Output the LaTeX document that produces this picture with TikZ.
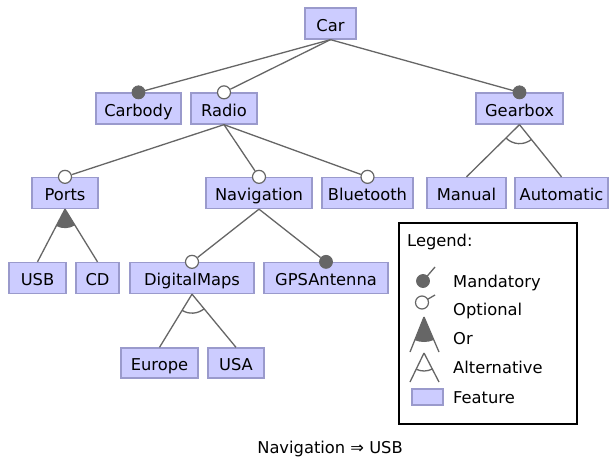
\documentclass[tikz,border=0pt]{standalone}
\usepackage{fontspec}
\setmainfont{DejaVu Sans}
\usetikzlibrary{calc}
\definecolor{boxfill}{HTML}{CCCCFF}
\definecolor{boxborder}{HTML}{9A9ACC}
\definecolor{lngray}{HTML}{666666}
\newcommand\fmor[4]{%
  \draw[conn] (#1) -- (#2);
  \draw[conn] (#1) -- (#3);
  \fill[lngray] let \p1=($(#2)-(#1)$), \p2=($(#3)-(#1)$),
    \n1={atan2(\y1,\x1)}, \n2={atan2(\y2,\x2)} in
    (#1) -- ++(\n1:#4) arc[start angle=\n1, end angle=\n2, radius=#4] -- cycle;}
\newcommand\fmalt[4]{%
  \draw[conn] (#1) -- (#2);
  \draw[conn] (#1) -- (#3);
  \draw[conn] let \p1=($(#2)-(#1)$), \p2=($(#3)-(#1)$),
    \n1={atan2(\y1,\x1)}, \n2={atan2(\y2,\x2)} in
    (#1) ++(\n1:#4) arc[start angle=\n1, end angle=\n2, radius=#4];}
\begin{document}
\begin{tikzpicture}[x=1pt,y=1pt,
  every node/.style={font=\fontsize{16.3}{19}\selectfont},
  feat/.style={draw=boxborder, fill=boxfill, line width=1.3pt, minimum height=31pt,
    inner xsep=0pt, inner ysep=0pt, text height=15pt, text depth=0pt},
  conn/.style={draw=lngray, line width=1.3pt},
  mand/.style={circle, fill=lngray, draw=lngray, line width=0.8pt, minimum size=13pt, inner sep=0pt},
  opt/.style={circle, fill=white, draw=lngray, line width=1.2pt, minimum size=13pt, inner sep=0pt},
  lbl/.style={anchor=base west, inner sep=0pt}]
\useasboundingbox (0,0) rectangle (609,-460);
\fill[white] (0,0) rectangle (609,-460);
% features
\node[feat, minimum width=51pt] (Car) at (330.5,-23.5) {Car};
\node[feat, minimum width=85pt] (Carbody) at (138.5,-108.5) {Carbody};
\node[feat, minimum width=66pt] (Radio) at (224,-108.5) {Radio};
\node[feat, minimum width=87pt] (Gearbox) at (519.5,-108.5) {Gearbox};
\node[feat, minimum width=66pt] (Ports) at (65,-193) {Ports};
\node[feat, minimum width=106pt] (Navigation) at (259,-193) {Navigation};
\node[feat, minimum width=91pt] (Bluetooth) at (367.5,-193) {Bluetooth};
\node[feat, minimum width=79pt] (Manual) at (466.5,-193) {Manual};
\node[feat, minimum width=93pt] (Automatic) at (561.5,-193) {Automatic};
\node[feat, minimum width=57pt] (USB) at (37.5,-278) {USB};
\node[feat, minimum width=43pt] (CD) at (97.5,-278) {CD};
\node[feat, minimum width=124pt] (DigitalMaps) at (192,-278) {DigitalMaps};
\node[feat, minimum width=124pt] (GPSAntenna) at (326,-278) {GPSAntenna};
\node[feat, minimum width=77pt, minimum height=30pt] (Europe) at (159.5,-363) {Europe};
\node[feat, minimum width=56pt, minimum height=30pt] (USA) at (236,-363) {USA};
% mandatory / optional
\node[mand] (mCarbody) at (Carbody.north) {};
\node[opt] (oRadio) at (Radio.north) {};
\node[mand] (mGearbox) at (Gearbox.north) {};
\node[opt] (oPorts) at (Ports.north) {};
\node[opt] (oNavigation) at (Navigation.north) {};
\node[opt] (oBluetooth) at (Bluetooth.north) {};
\node[opt] (oDigitalMaps) at (DigitalMaps.north) {};
\node[mand] (mGPSAntenna) at (GPSAntenna.north) {};
\draw[conn] (Car.south) -- (mCarbody);
\draw[conn] (Car.south) -- (oRadio);
\draw[conn] (Car.south) -- (mGearbox);
\draw[conn] (Radio.south) -- (oPorts);
\draw[conn] (Radio.south) -- (oNavigation);
\draw[conn] (Radio.south) -- (oBluetooth);
\draw[conn] (Navigation.south) -- (oDigitalMaps);
\draw[conn] (Navigation.south) -- (mGPSAntenna);
% groups
\fmor{Ports.south}{USB.north}{CD.north}{19pt}
\fmalt{Gearbox.south}{Manual.north}{Automatic.north}{19pt}
\fmalt{DigitalMaps.south}{Europe.north}{USA.north}{19pt}
% legend
\node[draw=black, line width=1.2pt, minimum width=178pt, minimum height=201pt, inner sep=0pt] (legend) at (488,-323.5) {};
\node[lbl] (lgtitle) at (407,-246) {Legend:};
\coordinate (lgmE) at (435,-267);
\draw[conn] (423,-281) -- (lgmE);
\node[mand] (lgm) at (423,-281) {};
\node[lbl] (lgmt) at (453,-287.5) {Mandatory};
\coordinate (lgoE) at (435,-295);
\draw[conn] (422,-302.5) -- (lgoE);
\node[opt] (lgo) at (422,-302.5) {};
\node[lbl] (lgot) at (453,-315.5) {Optional};
\coordinate (lgorA) at (424,-317);
\coordinate (lgorL) at (410,-352);
\coordinate (lgorR) at (439,-352);
\fmor{lgorA}{lgorL}{lgorR}{25pt}
\node[lbl] (lgort) at (453,-344.5) {Or};
\coordinate (lgalA) at (424,-353);
\coordinate (lgalL) at (410,-382);
\coordinate (lgalR) at (439,-382);
\fmalt{lgalA}{lgalL}{lgalR}{18pt}
\node[lbl] (lgalt) at (453,-373.5) {Alternative};
\node[draw=boxborder, fill=boxfill, line width=1.2pt, minimum width=31pt, minimum height=16pt, inner sep=0pt] (lgf) at (427.5,-397) {};
\node[lbl] (lgft) at (453,-403.5) {Feature};
% constraint
\node[anchor=base, inner sep=0pt] (constraint) at (330,-453) {Navigation ⇒ USB};
\end{tikzpicture}
\end{document}
